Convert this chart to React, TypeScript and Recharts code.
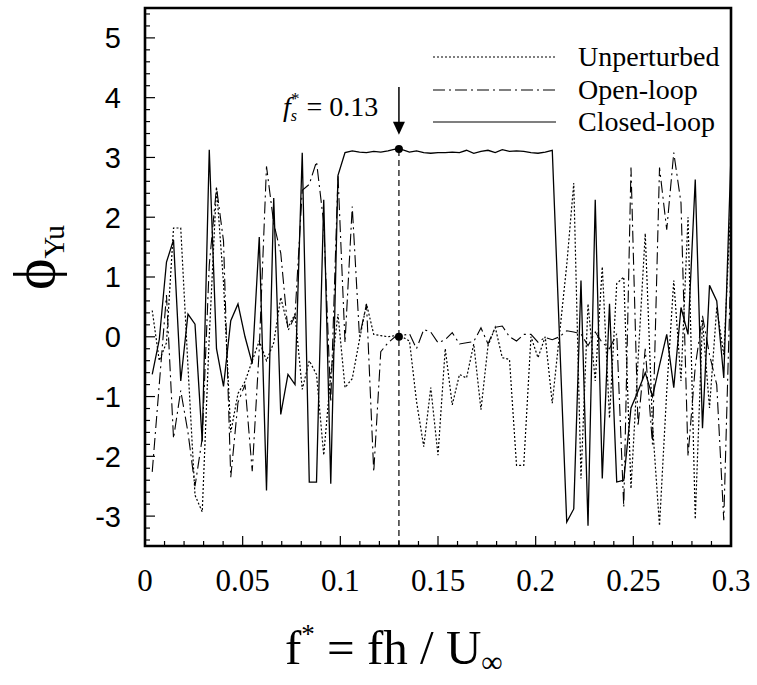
import { LineChart, Line, XAxis, YAxis, ReferenceLine, ReferenceDot, ReferenceArea } from 'recharts'

// normalised frequency f* = fh/U
const freq = [
  0.0037, 0.0073, 0.011, 0.0146, 0.0183, 0.022, 0.0256, 0.0293, 0.0329, 0.0366,
  0.0402, 0.0439, 0.0476, 0.0512, 0.0549, 0.0585, 0.0622, 0.0659, 0.0695, 0.0732,
  0.0768, 0.0805, 0.0841, 0.0878, 0.0915, 0.0951, 0.0988, 0.1024, 0.1061, 0.1098,
  0.1134, 0.1171, 0.1207, 0.1244, 0.128, 0.1317, 0.1354, 0.139, 0.1427, 0.1463,
  0.15, 0.1537, 0.1573, 0.161, 0.1646, 0.1683, 0.172, 0.1756, 0.1793, 0.1829,
  0.1866, 0.1902, 0.1939, 0.1976, 0.2012, 0.2049, 0.2085, 0.2122, 0.2159, 0.2195,
  0.2232, 0.2268, 0.2305, 0.2341, 0.2378, 0.2415, 0.2451, 0.2488, 0.2524, 0.2561,
  0.2598, 0.2634, 0.2671, 0.2707, 0.2744, 0.278, 0.2817, 0.2854, 0.289, 0.2927,
  0.2963, 0.3,
]

const unperturbed = [
  0.44, -0.4, -0.1, 1.82, 1.82, -0.5, -2.65, -2.93, 0.0, 2.5,
  0.9, -1.6, -0.95, -0.75, -0.4, -0.07, -0.4, -0.1, 0.66, 0.16,
  0.38, -0.88, -0.4, -0.63, -1.98, -0.63, 0.38, -0.85, -0.7, -0.05,
  0.55, 0.04, 0.02, 0.0, 0.02, 0.0, -0.07, -1.08, -1.84, -0.85,
  -1.98, -0.2, -1.14, -0.63, -0.69, -0.12, -1.22, -0.15, 0.16, -0.35,
  -0.38, -2.15, -2.15, 0.0, -0.35, 0.0, -1.11, 0.04, 1.2, 2.57,
  -2.37, 0.55, -0.74, 1.17, -1.36, 0.89, 1.0, -2.54, -0.4, 1.73,
  -1.47, -3.16, -0.91, 0.94, -0.74, 2.0, -3.05, 0.27, -1.19, 0.49,
  -0.3, 2.25,
]

const openLoop = [
  -2.26, -0.8, 0.7, -1.7, -0.9, -1.6, -2.5, -1.7, 1.2, 2.5,
  1.6, -2.35, -1.1, -0.8, -2.25, -0.2, 2.85, 1.9, 1.4, 0.1,
  0.35, 2.45, 2.55, 2.93, 1.9, -1.1, 2.7, -0.1, 2.18, 0.0,
  0.55, -2.26, -0.25, -0.1, 0.0, 0.02, 0.05, -0.2, 0.12, 0.08,
  -0.1, -0.05, 0.07, -0.12, -0.1, -0.08, 0.15, -0.12, 0.16, 0.18,
  0.0, -0.07, 0.04, 0.04, -0.09, -0.01, -0.05, 0.0, 0.1, 0.08,
  0.05, -0.15, 0.08, -0.1, -0.2, 0.05, -2.85, 2.83, -1.5, -0.2,
  -1.8, 2.83, 1.79, 3.08, 2.24, -2.0, -0.5, 0.35, -0.3, -0.8,
  -3.07, 1.3,
]

const closedLoop = [
  -0.63, -0.05, 1.25, 1.62, -0.74, 0.38, 0.21, -1.75, 3.13, -0.2,
  -0.83, 0.27, 0.55, 0.0, -0.45, 1.67, -2.57, 2.32, -1.3, -0.63,
  -0.8, 3.08, -2.43, -2.43, 2.29, -2.46, 2.7, 3.08, 3.11, 3.09,
  3.08, 3.1, 3.09, 3.11, 3.14, 3.13, 3.09, 3.11, 3.08, 3.07,
  3.08, 3.08, 3.09, 3.08, 3.12, 3.07, 3.1, 3.12, 3.08, 3.13,
  3.1, 3.11, 3.1, 3.08, 3.07, 3.09, 3.12, 0.0, -3.1, -2.88,
  0.94, -3.16, 2.29, -2.37, 0.55, -2.43, -2.4, -1.19, -0.91, -0.6,
  -1.0, -0.48, 0.04, -0.85, 0.49, 0.04, 2.63, -1.53, 0.86, 0.6,
  -0.69, 3.05,
]

const seriesNames = ['Unperturbed', 'Open-loop', 'Closed-loop']
const xMajorTicks = [0, 0.05, 0.1, 0.15, 0.2, 0.25, 0.3]
const yMajorTicks = [-3, -2, -1, 0, 1, 2, 3, 4, 5]

// shedding frequency annotation
const shedFreq = 0.13
const shedPhaseClosed = 3.14
const shedPhaseOpen = 0.0

const rows = freq.map((f, i) => ({
  f,
  unperturbed: unperturbed[i],
  open: openLoop[i],
  closed: closedLoop[i],
}))

const xTicks: number[] = []
for (let k = 0; k <= 30; k++) xTicks.push(Number((k * 0.01).toFixed(2)))
const yTicks: number[] = []
for (let k = -17; k <= 27; k++) yTicks.push(Number((k * 0.2).toFixed(1)))

const serif = '"Liberation Serif", "Times New Roman", serif'
const sans = '"Liberation Sans", Arial, sans-serif'

const dashes = ['2 2', '12 4 2 4', undefined]

function XTick(props: any) {
  const { x, y, payload } = props
  const major = xMajorTicks.some((t) => Math.abs(t - payload.value) < 1e-9)
  return (
    <g>
      <line x1={x} x2={x} y1={y} y2={y - (major ? 10 : 5)} stroke="#000" strokeWidth={1.2} />
      {major && (
        <text x={x} y={y + 45} textAnchor="middle" fontFamily={serif} fontSize={31} fill="#000">
          {String(payload.value)}
        </text>
      )}
    </g>
  )
}

function YTick(props: any) {
  const { x, y, payload } = props
  const major = yMajorTicks.some((t) => Math.abs(t - payload.value) < 1e-9)
  return (
    <g>
      <line x1={x} x2={x + (major ? 10 : 5)} y1={y} y2={y} stroke="#000" strokeWidth={1.2} />
      {major && (
        <text x={x - 24} y={y} dy="0.36em" textAnchor="end" fontFamily={sans} fontSize={29} fill="#000">
          {String(payload.value)}
        </text>
      )}
    </g>
  )
}

const renderXTitle = () => (
  <text x={285} y={664} fontFamily={serif} fontSize={49} fill="#000">
    f<tspan dy={-21} fontSize={27}>*</tspan>
    <tspan dy={21} fontSize={49}> = fh / U</tspan>
    <tspan dy={8} fontSize={30}>∞</tspan>
  </text>
)

const renderDecor = () => (
  <g>
    <text transform="rotate(-90 54 290)" x={54} y={290} fontFamily={serif} fontSize={60} fill="#000">
      ϕ<tspan fontSize={30} dy={10}>Yu</tspan>
    </text>
    {seriesNames.map((name, i) => {
      const ly = [57, 90, 122][i]
      return (
        <g key={name}>
          <line x1={433} x2={556} y1={ly} y2={ly} stroke="#000" strokeWidth={1.2} strokeDasharray={dashes[i]} />
          <text x={578} y={ly + 9} fontFamily={serif} fontSize={28} fill="#000">
            {name}
          </text>
        </g>
      )
    })}
  </g>
)

export default function App() {
  return (
    <div style={{ position: 'absolute', left: 0, top: 0, background: '#fff' }}>
      <LineChart width={757} height={685} data={rows} margin={{ top: 8, right: 26, bottom: 0, left: 0 }}>
        <XAxis
          dataKey="f"
          type="number"
          domain={[0, 0.3]}
          ticks={xTicks}
          interval={0}
          tick={(p: any) => <XTick {...p} />}
          tickLine={false}
          axisLine={false}
          tickSize={0}
          tickMargin={0}
          height={139}
          allowDataOverflow
          label={renderXTitle}
        />
        <YAxis
          type="number"
          domain={[-3.5, 5.5]}
          ticks={yTicks}
          interval={0}
          tick={(p: any) => <YTick {...p} />}
          tickLine={false}
          axisLine={false}
          tickSize={0}
          tickMargin={0}
          width={145}
          allowDataOverflow
          label={renderDecor}
        />
        <Line type="linear" dataKey="unperturbed" stroke="#000" strokeWidth={1.2} strokeDasharray="2 2" dot={false} isAnimationActive={false} />
        <Line type="linear" dataKey="open" stroke="#000" strokeWidth={1.1} strokeDasharray="12 4 2 4" dot={false} isAnimationActive={false} />
        <Line type="linear" dataKey="closed" stroke="#000" strokeWidth={1.3} dot={false} isAnimationActive={false} />
        <ReferenceLine
          segment={[{ x: shedFreq, y: -3.5 }, { x: shedFreq, y: shedPhaseClosed }]}
          stroke="#000"
          strokeWidth={1.2}
          strokeDasharray="6 4"
        />
        <ReferenceLine segment={[{ x: shedFreq, y: 4.18 }, { x: shedFreq, y: 3.58 }]} stroke="#000" strokeWidth={1.5} />
        <ReferenceDot
          x={shedFreq}
          y={3.38}
          shape={(p: any) => (
            <polygon points={`${p.cx - 6},${p.cy - 13} ${p.cx + 6},${p.cy - 13} ${p.cx},${p.cy}`} fill="#000" />
          )}
        />
        <ReferenceDot
          x={shedFreq}
          y={3.69}
          shape={(p: any) => (
            <text x={p.cx - 116} y={p.cy} fontFamily={serif} fontSize={28} fill="#000">
              <tspan fontStyle="italic">f</tspan>
              <tspan fontStyle="italic" fontSize={16} dy={5}>s</tspan>
              <tspan fontSize={17} dx={-6} dy={-17}>*</tspan>
              <tspan fontSize={28} dy={12}> = 0.13</tspan>
            </text>
          )}
        />
        <ReferenceDot x={shedFreq} y={shedPhaseClosed} r={4} fill="#000" stroke="none" />
        <ReferenceDot x={shedFreq} y={shedPhaseOpen} r={4} fill="#000" stroke="none" />
        <ReferenceArea x1={0} x2={0.3} y1={-3.5} y2={5.5} fill="none" stroke="#000" strokeWidth={2.6} />
      </LineChart>
    </div>
  )
}
